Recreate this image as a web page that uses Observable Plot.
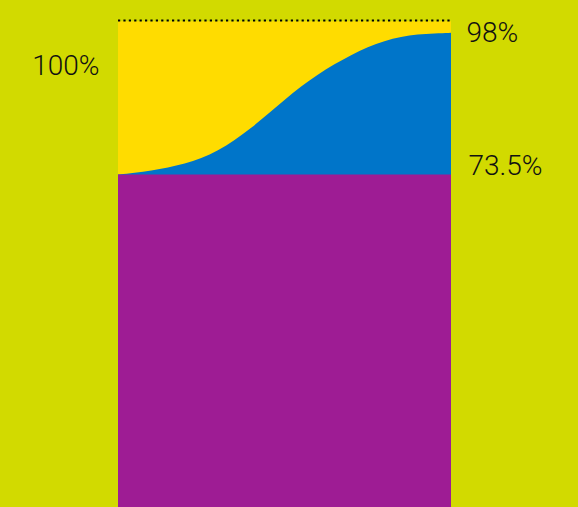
<!DOCTYPE html>
<html>
<head>
<meta charset="utf-8">
<script src="https://cdn.jsdelivr.net/npm/d3@7"></script>
<script src="https://cdn.jsdelivr.net/npm/@observablehq/plot@0.6"></script>
<style>
  html, body { margin: 0; padding: 0; background: #d2da00; overflow: hidden; }
  #chart svg { display: block; }
</style>
</head>
<body>
<div id="chart"></div>
<script>
// Progress along the period (0–100) and the share reached (%)
const progress = [0, 5, 10, 15, 20, 25, 30, 35, 40, 45, 50, 55, 60, 65, 70, 75, 80, 85, 90, 95, 100];
const share    = [73.5, 73.8, 74.17, 74.67, 75.33, 76.27, 77.63, 79.43, 81.53, 83.93, 86.4, 88.8, 90.8, 92.6, 94.17, 95.57, 96.6, 97.33, 97.73, 97.93, 98.0];
const baseline = 73.5;
const ceiling = 100;
const labelLeft = "100%";
const labelEnd = "98%";
const labelBase = "73.5%";

const rows = progress.map((p, i) => ({p, v: share[i]}));

const colors = {
  bg: "#d2da00",
  purple: "#9e1c94",
  yellow: "#ffdc00",
  blue: "#0075c9",
  ink: "#111111"
};

const font = "Roboto, 'Helvetica Neue', 'Liberation Sans', sans-serif";

const chart = Plot.plot({
  width: 578,
  height: 507,
  marginLeft: 118,
  marginRight: 127,
  marginTop: 0,
  marginBottom: 0,
  style: {background: colors.bg, fontFamily: font},
  x: {domain: [0, 100], axis: null},
  y: {domain: [0, 100], range: [599.3, 21.3], axis: null},
  marks: [
    Plot.areaY(rows, {x: "p", y1: 0, y2: ceiling, fill: colors.yellow}),
    Plot.areaY(rows, {x: "p", y1: 0, y2: "v", fill: colors.blue, curve: "basis"}),
    Plot.areaY(rows, {x: "p", y1: 0, y2: baseline, fill: colors.purple}),
    Plot.ruleY([ceiling], {stroke: "#000", strokeWidth: 2.2, strokeDasharray: "2.2,3.2", dy: -1.3}),
    Plot.text([labelLeft], {text: d => d, y: ceiling, frameAnchor: "left", textAnchor: "end", lineAnchor: "bottom", dx: -19, dy: 52.7, fontSize: 28, fontWeight: 300, fill: colors.ink}),
    Plot.text([labelEnd], {text: d => d, y: share[share.length - 1], frameAnchor: "right", textAnchor: "start", lineAnchor: "middle", dx: 15, fontSize: 28, fontWeight: 300, fill: colors.ink}),
    Plot.text([labelBase], {text: d => d, y: baseline, frameAnchor: "right", textAnchor: "start", lineAnchor: "bottom", dx: 17, fontSize: 28, fontWeight: 300, fill: colors.ink})
  ]
});
document.getElementById("chart").appendChild(chart);
</script>
</body>
</html>
